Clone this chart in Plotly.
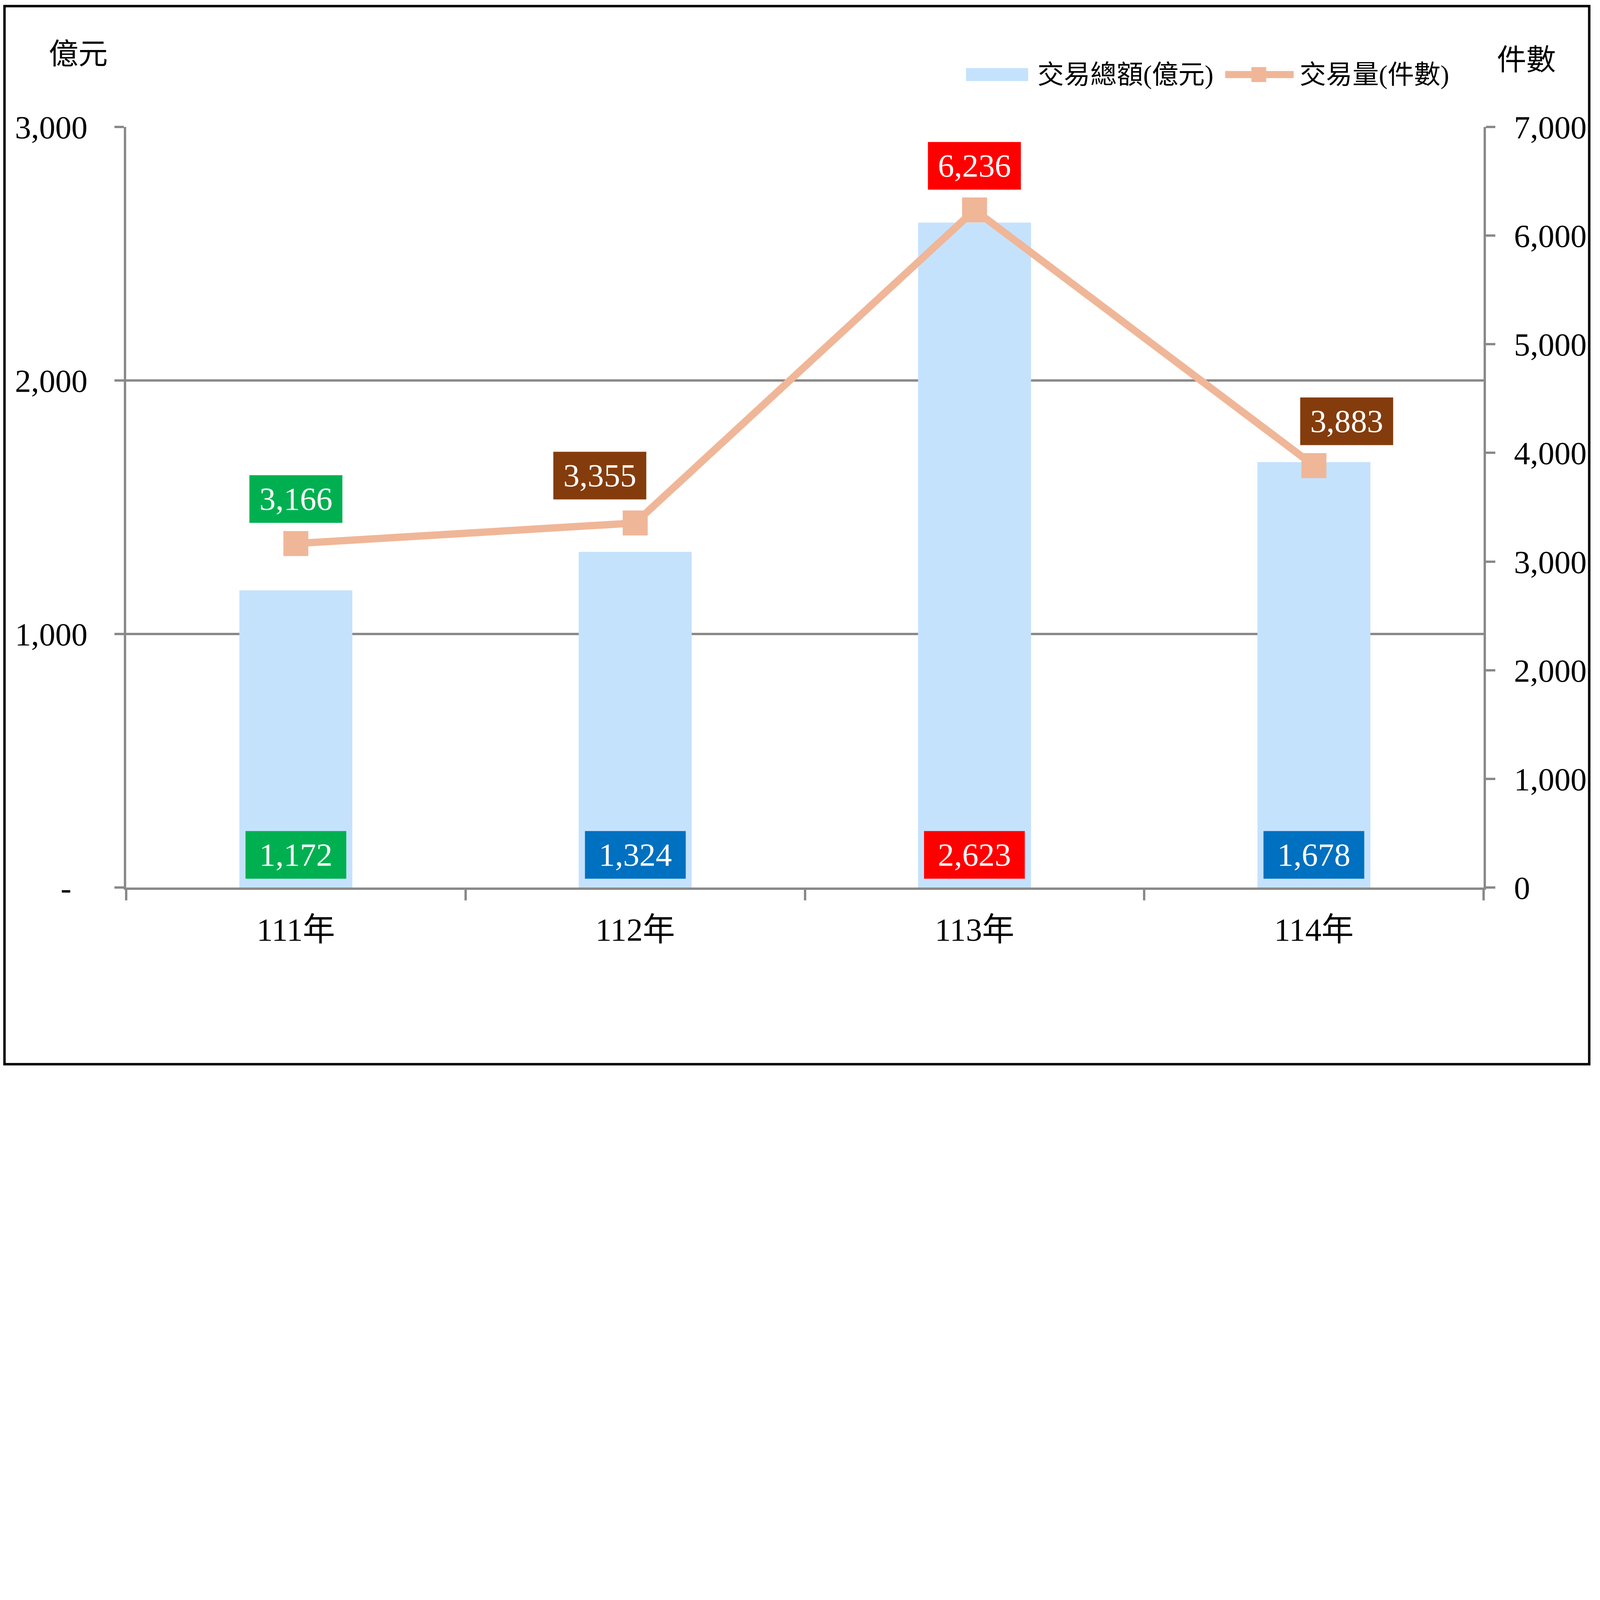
import plotly.graph_objects as go

# --- data ---
years = ["111年", "112年", "113年", "114年"]
amount = [1172, 1324, 2623, 1678]          # 交易總額(億元)
volume = [3166, 3355, 6236, 3883]          # 交易量(件數)

amount_text = ["1,172", "1,324", "2,623", "1,678"]
volume_text = ["3,166", "3,355", "6,236", "3,883"]
amount_label_colors = ["#00B050", "#0070C0", "#FF0000", "#0070C0"]
volume_label_colors = ["#00B050", "#843C0C", "#FF0000", "#843C0C"]
volume_label_shift = [(0, 219), (-175, 234), (0, 218), (161, 219)]

left_ticks = [0, 1000, 2000, 3000]
left_ticktext = ["-\u00a0\u00a0", "1,000", "2,000", "3,000"]

# --- geometry, measured on the 7847x5249 reference and scaled to fit the window ---
REF_W, REF_H = 7847, 5249
S = 0.52
PAGE_PAD = 8                               # default body margin of the html page
W, H = round(REF_W * S), round(REF_H * S)
L, R, T, B = 622, 7304, 625, 4370          # plot area in reference pixels
PW, PH = R - L, B - T

BAR_COLOR = "#C5E2FD"
LINE_COLOR = "#F0B698"
AXIS_COLOR = "#898989"
SERIF = "Liberation Serif, Noto Sans CJK TC"


def s(v):
    return v * S


def si(v):
    return int(round(v * S))


def px(x):
    return (x - L) / PW


def py(y):
    return (B - y) / PH


fig = go.Figure()

fig.add_trace(
    go.Bar(
        x=years,
        y=amount,
        name="交易總額(億元)",
        marker=dict(color=BAR_COLOR, line=dict(width=0)),
        width=0.333,
    )
)

fig.add_trace(
    go.Scatter(
        x=years,
        y=volume,
        name="交易量(件數)",
        yaxis="y2",
        mode="lines+markers",
        line=dict(color=LINE_COLOR, width=s(36)),
        marker=dict(symbol="square", size=s(123), color=LINE_COLOR, line=dict(width=0)),
    )
)

annotations = []

# value boxes at the base of the bars
for yr, txt, col in zip(years, amount_text, amount_label_colors):
    annotations.append(
        dict(
            x=yr, y=0, xref="x", yref="y",
            text=txt, showarrow=False,
            xanchor="center", yanchor="bottom", yshift=s(43),
            width=s(494), height=s(232), borderpad=0,
            bgcolor=col, font=dict(family=SERIF, size=s(160), color="white"),
        )
    )

# value boxes above the line markers
for yr, v, txt, col, (dx, dy) in zip(years, volume, volume_text, volume_label_colors, volume_label_shift):
    annotations.append(
        dict(
            x=yr, y=v, xref="x", yref="y2",
            text=txt, showarrow=False,
            xanchor="center", yanchor="middle",
            xshift=s(dx), yshift=s(dy),
            width=s(456), height=s(232), borderpad=0,
            bgcolor=col, font=dict(family=SERIF, size=s(160), color="white"),
        )
    )

# axis unit titles
for text, cx, cy in [("億元", 386, 266), ("件數", 7514, 296)]:
    annotations.append(
        dict(x=px(cx), y=py(cy), xref="paper", yref="paper", text=text, showarrow=False,
             xanchor="center", yanchor="middle",
             font=dict(family=SERIF, size=s(145), color="black"))
    )

# legend texts
for text, lx in [("交易總額(億元)", 5105), ("交易量(件數)", 6395)]:
    annotations.append(
        dict(x=px(lx), y=py(368), xref="paper", yref="paper", text=text, showarrow=False,
             xanchor="left", yanchor="middle",
             font=dict(family=SERIF, size=s(130), color="black"))
    )

shapes = [
    # outer frame
    dict(type="rect", xref="paper", yref="paper",
         x0=px(23), x1=px(7824), y0=py(5240), y1=py(30),
         line=dict(color="black", width=s(12)), fillcolor="rgba(0,0,0,0)", layer="above"),
    # legend swatches
    dict(type="rect", xref="paper", yref="paper",
         x0=px(4756), x1=px(5062), y0=py(399), y1=py(335),
         line=dict(width=0), fillcolor=BAR_COLOR),
    dict(type="line", xref="paper", yref="paper",
         x0=px(6032), x1=px(6369), y0=py(367), y1=py(367),
         line=dict(color=LINE_COLOR, width=s(35))),
    dict(type="rect", xref="paper", yref="paper",
         x0=px(6161), x1=px(6234), y0=py(404), y1=py(330),
         line=dict(width=0), fillcolor=LINE_COLOR),
]

axis_common = dict(
    showline=True,
    linecolor=AXIS_COLOR,
    linewidth=s(11),
    ticks="outside",
    tickwidth=s(11),
    tickcolor=AXIS_COLOR,
    tickfont=dict(family=SERIF, size=s(159), color="black"),
    zeroline=False,
)

fig.update_layout(
    width=W,
    height=H,
    margin=dict(
        l=s(L) - PAGE_PAD,
        r=s(REF_W - R) + PAGE_PAD,
        t=s(T) - PAGE_PAD,
        b=s(REF_H - B) + PAGE_PAD,
        autoexpand=False,
    ),
    paper_bgcolor="white",
    plot_bgcolor="white",
    showlegend=False,
    font=dict(family=SERIF, size=s(155), color="black"),
    xaxis=dict(
        type="category",
        range=[-0.5, 3.5],
        tickson="boundaries",
        ticklen=s(52),
        ticklabelstandoff=si(60),
        showgrid=False,
        **axis_common,
    ),
    yaxis=dict(
        range=[0, 3000],
        tickvals=left_ticks,
        ticktext=left_ticktext,
        showgrid=True,
        gridcolor=AXIS_COLOR,
        gridwidth=s(11),
        ticklen=s(47),
        ticklabelstandoff=si(100),
        **axis_common,
    ),
    yaxis2=dict(
        overlaying="y",
        side="right",
        range=[0, 7000],
        dtick=1000,
        tickformat=",",
        showgrid=False,
        ticklen=s(47),
        ticklabelstandoff=si(60),
        **axis_common,
    ),
    annotations=annotations,
    shapes=shapes,
)

fig.write_html("out.html")
